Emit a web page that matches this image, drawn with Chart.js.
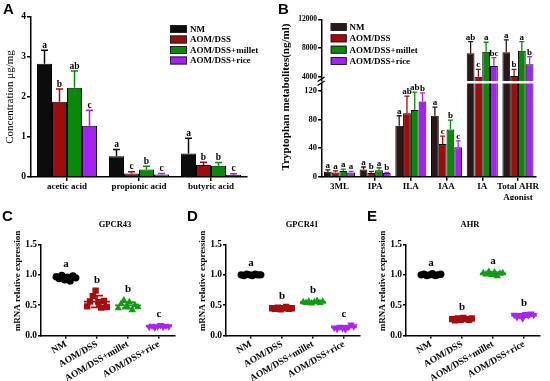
<!DOCTYPE html>
<html><head><meta charset="utf-8">
<script src="https://cdn.jsdelivr.net/npm/chart.js@4.4.0/dist/chart.umd.min.js"></script>
<style>
html,body{margin:0;padding:0;background:#fff;}
#wrap{position:relative;width:550px;height:381px;overflow:hidden;background:#fff;}
canvas{position:absolute;}
</style></head><body>
<div id="wrap">
<canvas id="cA" width="275" height="200" style="left:0;top:0"></canvas>
<canvas id="cB" width="275" height="200" style="left:275px;top:0"></canvas>
<canvas id="cB2" width="275" height="200" style="left:275px;top:0"></canvas>
<canvas id="cC" width="185" height="181" style="left:0;top:200px"></canvas>
<canvas id="cD" width="185" height="181" style="left:185px;top:200px"></canvas>
<canvas id="cE" width="185" height="181" style="left:365px;top:200px"></canvas>
</div>
<script>
// ---------------- DATA ----------------
const groups = ['NM', 'AOM/DSS', 'AOM/DSS+millet', 'AOM/DSS+rice'];

// Panel A: short chain fatty acids
const scfaLabels = ['acetic acid', 'propionic acid', 'butyric acid'];
const scfaTicks = [0, 1, 2, 3, 4];
const scfaNM = [2.83, 0.52, 0.59];
const scfaAOM = [1.88, 0.09, 0.30];
const scfaMillet = [2.23, 0.19, 0.28];
const scfaRice = [1.28, 0.06, 0.05];
const scfaNMErr = [0.34, 0.17, 0.38];
const scfaAOMErr = [0.32, 0.04, 0.07];
const scfaMilletErr = [0.42, 0.08, 0.08];
const scfaRiceErr = [0.39, 0.03, 0.03];
const scfaNMSig = ['a', 'a', 'a'];
const scfaAOMSig = ['b', 'c', 'b'];
const scfaMilletSig = ['ab', 'b', 'b'];
const scfaRiceSig = ['c', 'c', 'c'];

// Panel B: tryptophan metabolites
const trpLabels = ['3ML', 'IPA', 'ILA', 'IAA', 'IA', ['Total AHR', 'Agonist']];
const trpLowerTicks = [0, 40, 80, 120];
const trpUpperTicks = [4000, 8000, 12000];
const trpNM = [7, 10, 71, 85, 7260, 7400];
const trpAOM = [6, 5, 88.5, 45.5, 4000, 4100];
const trpMillet = [8, 9, 93, 66, 7490, 7630];
const trpRice = [6, 5, 105, 41, 5490, 5730];
const trpNMErr = [2.5, 3.5, 14, 12, 1620, 1720];
const trpAOMErr = [2, 2.5, 24, 11, 1030, 930];
const trpMilletErr = [2.5, 3.5, 25, 13, 1310, 1250];
const trpRiceErr = [1.5, 1, 12, 9, 1160, 1060];
const trpNMSig = ['a', 'a', 'a', 'a', 'ab', 'a'];
const trpAOMSig = ['a', 'b', 'ab', 'c', 'c', 'b'];
const trpMilletSig = ['a', 'a', 'ab', 'b', 'a', 'a'];
const trpRiceSig = ['a', 'b', 'b', 'c', 'bc', 'b'];

// Panels C-E: mRNA relative expression (individual animals)
const mrnaTicks = [0, 0.5, 1.0, 1.5];
const gpcr43NM = [0.97, 0.94, 0.99, 0.92, 0.96, 0.90, 0.98, 0.95];
const gpcr43AOM = [0.48, 0.56, 0.65, 0.74, 0.55, 0.46, 0.57, 0.47];
const gpcr43Millet = [0.45, 0.52, 0.58, 0.49, 0.55, 0.42, 0.50, 0.47];
const gpcr43Rice = [0.14, 0.16, 0.13, 0.15, 0.17, 0.14, 0.16, 0.15];
const gpcr43Sig = ['a', 'b', 'b', 'c'];

const gpcr41NM = [1.00, 0.99, 1.01, 1.00, 0.99, 1.01, 1.00, 1.00];
const gpcr41AOM = [0.45, 0.44, 0.46, 0.43, 0.45, 0.47, 0.44, 0.45];
const gpcr41Millet = [0.55, 0.54, 0.56, 0.53, 0.55, 0.57, 0.54, 0.56];
const gpcr41Rice = [0.13, 0.11, 0.14, 0.12, 0.10, 0.14, 0.18, 0.15];
const gpcr41Sig = ['a', 'b', 'b', 'c'];

const ahrNM = [1.00, 1.01, 0.99, 1.00, 1.02, 0.99, 1.00, 1.01];
const ahrAOM = [0.27, 0.25, 0.28, 0.26, 0.29, 0.27, 0.26, 0.28];
const ahrMillet = [1.03, 1.01, 1.05, 1.00, 1.04, 0.98, 1.02, 1.03];
const ahrRice = [0.34, 0.30, 0.33, 0.28, 0.35, 0.33, 0.36, 0.34];
const ahrSig = ['a', 'b', 'a', 'b'];

// ---------------- STYLE ----------------
const SERIF = '"Liberation Serif","Times New Roman",serif';
const SANS = '"Liberation Sans",Arial,sans-serif';
Chart.defaults.font.family = SERIF;
Chart.defaults.color = '#000';
Chart.defaults.animation = false;

const colA = ['#0c0c0c', '#9e0c0c', '#0a880a', '#a322f2'];
const colB = ['#2a1717', '#9e0c0c', '#0a880a', '#a322f2'];
const dotColors = ['#000000', '#a50e0e', '#139c13', '#a826f0'];
const dotStyles = ['circle', 'rect', 'triangle', 'triangle'];
const dotRot = [0, 0, 0, 180];
const dotRadius = [3.7, 4.5, 4.3, 4.3];

// ---------------- PLUGINS ----------------
function panelLetter(txt, x, y) {
  return { id: 'panelLetter', afterDraw(chart) {
    const ctx = chart.ctx; ctx.save();
    ctx.fillStyle = '#000'; ctx.font = 'bold 15px ' + SANS;
    ctx.textAlign = 'left'; ctx.textBaseline = 'alphabetic';
    ctx.fillText(txt, x, y); ctx.restore();
  }};
}
function legendBox(x, ys, w, h, colors, tx, fsize) {
  return { id: 'legendBox', afterDraw(chart) {
    const ctx = chart.ctx; ctx.save();
    ctx.font = 'bold ' + fsize + 'px ' + SERIF; ctx.textAlign = 'left'; ctx.textBaseline = 'middle';
    groups.forEach((g, k) => {
      ctx.fillStyle = colors[k]; ctx.fillRect(x, ys[k], w, h);
      ctx.strokeStyle = '#222'; ctx.lineWidth = 1; ctx.strokeRect(x + 0.5, ys[k] + 0.5, w - 1, h - 1);
      ctx.fillStyle = '#000'; ctx.fillText(g, tx, ys[k] + h / 2 + 0.5);
    });
    ctx.restore();
  }};
}
function barMarks(errs, sigs, colors, cap, lw, fsize, gap) {
  return { id: 'barMarks', afterDatasetsDraw(chart) {
    const ctx = chart.ctx, ys = chart.scales.y;
    ctx.save();
    chart.data.datasets.forEach((ds, di) => {
      const meta = chart.getDatasetMeta(di);
      meta.data.forEach((bar, i) => {
        const v = ds.data[i], e = errs[di][i];
        if (v < ys.min || v > ys.max) return;
        const yTop = ys.getPixelForValue(v + e);
        ctx.strokeStyle = colors[di]; ctx.lineWidth = lw;
        ctx.beginPath();
        ctx.moveTo(bar.x, bar.y); ctx.lineTo(bar.x, yTop);
        ctx.moveTo(bar.x - cap, yTop); ctx.lineTo(bar.x + cap, yTop);
        ctx.stroke();
        ctx.fillStyle = '#000'; ctx.font = 'bold ' + fsize + 'px ' + SERIF;
        ctx.textAlign = 'center'; ctx.textBaseline = 'alphabetic';
        ctx.fillText(sigs[di][i], bar.x, yTop - gap);
      });
    });
    ctx.restore();
  }};
}
function textPlugin(items) {
  return { id: 'texts', afterDraw(chart) {
    const ctx = chart.ctx; ctx.save();
    items.forEach(t => {
      ctx.save(); ctx.translate(t.x, t.y); ctx.rotate((t.rot || 0) * Math.PI / 180);
      ctx.font = t.font; ctx.fillStyle = '#000'; ctx.textAlign = 'center'; ctx.textBaseline = 'middle';
      ctx.fillText(t.text, 0, 0); ctx.restore();
    });
    ctx.restore();
  }};
}
const breakMarks = { id: 'breakMarks', afterDraw(chart) {
  const ctx = chart.ctx, x = chart.chartArea.left;
  ctx.save(); ctx.strokeStyle = '#000'; ctx.lineWidth = 1.3;
  ctx.beginPath();
  ctx.moveTo(x - 4, 81.5); ctx.lineTo(x + 3, 77);
  ctx.moveTo(x - 4, 85.5); ctx.lineTo(x + 3, 81);
  ctx.stroke(); ctx.restore();
}};
function dotMarks(values, sig) {
  return { id: 'dotMarks', afterDatasetsDraw(chart) {
    const ctx = chart.ctx, xs = chart.scales.x, ys = chart.scales.y;
    ctx.save();
    values.forEach((arr, k) => {
      const n = arr.length, m = arr.reduce((a, b) => a + b, 0) / n;
      const sd = Math.sqrt(arr.reduce((a, b) => a + (b - m) * (b - m), 0) / (n - 1));
      const px = xs.getPixelForValue(k), pm = ys.getPixelForValue(m);
      const p1 = ys.getPixelForValue(m + sd), p0 = ys.getPixelForValue(m - sd);
      ctx.strokeStyle = dotColors[k]; ctx.lineWidth = 1.8;
      ctx.beginPath();
      ctx.moveTo(px - 13, pm); ctx.lineTo(px + 13, pm);
      ctx.moveTo(px, p0); ctx.lineTo(px, p1);
      ctx.moveTo(px - 6, p0); ctx.lineTo(px + 6, p0);
      ctx.moveTo(px - 6, p1); ctx.lineTo(px + 6, p1);
      ctx.stroke();
      const top = Math.min(p1, ys.getPixelForValue(Math.max(...arr)));
      ctx.fillStyle = '#000'; ctx.font = 'bold 11px ' + SERIF;
      ctx.textAlign = 'center'; ctx.textBaseline = 'alphabetic';
      ctx.fillText(sig[k], px, top - 8);
    });
    ctx.restore();
  }};
}

const axisGrid = (tl) => ({ drawOnChartArea: false, drawTicks: true, tickLength: tl, color: '#000', lineWidth: 1.5, offset: false });
const axisBorder = { color: '#000', width: 1.5 };
const fixTicks = (arr) => (ax) => { ax.ticks = arr.map(v => ({ value: v })); };

// ---------------- PANEL A ----------------
const scfaVals = [scfaNM, scfaAOM, scfaMillet, scfaRice];
new Chart(document.getElementById('cA'), {
  type: 'bar',
  data: { labels: scfaLabels, datasets: groups.map((g, k) => ({
    label: g, data: scfaVals[k], backgroundColor: colA[k], borderColor: '#000', borderWidth: 1,
    categoryPercentage: 0.833, barPercentage: 1, clip: 0 })) },
  options: {
    responsive: false, devicePixelRatio: 1, animation: false,
    layout: { padding: { left: 0, right: 28, top: 17, bottom: 0 } },
    plugins: { legend: { display: false }, tooltip: { enabled: false } },
    scales: {
      x: { type: 'category', offset: true, grid: axisGrid(4), border: axisBorder,
        ticks: { font: { size: 9, weight: 'bold' }, padding: 0, maxRotation: 0, minRotation: 0, autoSkip: false },
        afterFit: s => { s.height = 23; } },
      y: { min: 0, max: 4, afterBuildTicks: fixTicks(scfaTicks), grid: axisGrid(4), border: axisBorder,
        ticks: { font: { size: 9.5, weight: 'bold' }, padding: 1 },
        title: { display: true, text: 'Concentration μg/mg', font: { size: 11 }, padding: { top: 3.5, bottom: 0 } },
        afterFit: s => { s.width = 31; } }
    }
  },
  plugins: [
    barMarks([scfaNMErr, scfaAOMErr, scfaMilletErr, scfaRiceErr], [scfaNMSig, scfaAOMSig, scfaMilletSig, scfaRiceSig], colA, 3.5, 1.5, 9.5, 2.5),
    legendBox(170, [25, 35.5, 46, 56.5], 17, 8, colA, 190, 9),
    panelLetter('A', 3, 14)
  ]
});

// ---------------- PANEL B ----------------
const trpVals = [trpNM, trpAOM, trpMillet, trpRice];
const trpErrs = [trpNMErr, trpAOMErr, trpMilletErr, trpRiceErr];
const trpSigs = [trpNMSig, trpAOMSig, trpMilletSig, trpRiceSig];
const trpDatasets = () => groups.map((g, k) => ({
  label: g, data: trpVals[k], backgroundColor: colB[k], borderColor: '#000', borderWidth: 1,
  categoryPercentage: 0.87, barPercentage: 1, clip: 0 }));

// lower segment (0-130)
new Chart(document.getElementById('cB'), {
  type: 'bar',
  data: { labels: trpLabels, datasets: trpDatasets() },
  options: {
    responsive: false, devicePixelRatio: 1, animation: false,
    layout: { padding: { left: 0, right: 14.2, top: 83.5, bottom: 0 } },
    plugins: { legend: { display: false }, tooltip: { enabled: false } },
    scales: {
      x: { type: 'category', offset: true, grid: axisGrid(4), border: axisBorder,
        ticks: { font: { size: 9, weight: 'bold', lineHeight: 1.25 }, padding: 0, maxRotation: 0, minRotation: 0, autoSkip: false },
        afterFit: s => { s.height = 23.3; } },
      y: { min: 0, max: 130, afterBuildTicks: fixTicks(trpLowerTicks), grid: axisGrid(3.5), border: axisBorder,
        ticks: { font: { size: 8.5, weight: 'bold' }, padding: 1, callback: v => String(v) },
        afterFit: s => { s.width = 46.6; } }
    }
  },
  plugins: [
    barMarks(trpErrs, trpSigs, colB, 2.5, 1.3, 9, 2),
    legendBox(55.7, [23, 34.3, 45.7, 57], 16, 8, colB, 74.5, 9),
    textPlugin([{ text: 'Tryptophan metabolites(ng/ml)', x: 11, y: 97, rot: -90, font: 'bold 11px ' + SERIF }]),
    breakMarks,
    panelLetter('B', 3, 14)
  ]
});

// upper segment (3400-12000)
new Chart(document.getElementById('cB2'), {
  type: 'bar',
  data: { labels: trpLabels, datasets: trpDatasets() },
  options: {
    responsive: false, devicePixelRatio: 1, animation: false,
    layout: { padding: { left: 0, right: 14.2, top: 19.3, bottom: 119 } },
    plugins: { legend: { display: false }, tooltip: { enabled: false } },
    scales: {
      x: { type: 'category', offset: true, display: false },
      y: { min: 3400, max: 12000, afterBuildTicks: fixTicks(trpUpperTicks), grid: axisGrid(3.5), border: axisBorder,
        ticks: { font: { size: 7.5, weight: 'bold' }, padding: 1, callback: v => String(v) },
        afterFit: s => { s.width = 46.6; } }
    }
  },
  plugins: [ barMarks(trpErrs, trpSigs, colB, 2.5, 1.3, 9, 2) ]
});

// ---------------- PANELS C-E ----------------
function dotChart(id, values, sig, title, titleX, letter) {
  const datasets = values.map((arr, k) => ({
    label: groups[k],
    data: arr.map((v, i) => ({ x: k + (i - (arr.length - 1) / 2) * 0.09, y: v })),
    pointStyle: dotStyles[k], rotation: dotRot[k], pointRadius: dotRadius[k],
    backgroundColor: dotColors[k], borderColor: dotColors[k], borderWidth: 0, showLine: false
  }));
  new Chart(document.getElementById(id), {
    type: 'scatter',
    data: { datasets },
    options: {
      responsive: false, devicePixelRatio: 1, animation: false,
      layout: { padding: { left: 0, right: 10, top: 44.5, bottom: 0 } },
      plugins: { legend: { display: false }, tooltip: { enabled: false } },
      scales: {
        x: { type: 'linear', min: -0.806, max: 3.516, afterBuildTicks: fixTicks([0, 1, 2, 3]),
          grid: axisGrid(3), border: axisBorder,
          ticks: { font: { size: 9.5, weight: 'bold' }, padding: 0, minRotation: 30, maxRotation: 30, autoSkip: false,
            callback: v => groups[v] },
          afterFit: s => { s.height = 45.5; } },
        y: { min: 0, max: 1.5, afterBuildTicks: fixTicks(mrnaTicks), grid: axisGrid(3), border: axisBorder,
          ticks: { font: { size: 9.5, weight: 'bold' }, padding: 1, callback: v => v.toFixed(1) },
          afterFit: s => { s.width = 41; } }
      }
    },
    plugins: [
      dotMarks(values, sig),
      textPlugin([
        { text: title, x: titleX, y: 25, font: 'bold 8.5px ' + SERIF },
        { text: 'mRNA relative expression', x: 18, y: 81, rot: -90, font: 'bold 9px ' + SERIF }
      ]),
      panelLetter(letter, 2, 21)
    ]
  });
}
dotChart('cC', [gpcr43NM, gpcr43AOM, gpcr43Millet, gpcr43Rice], gpcr43Sig, 'GPCR43', 115, 'C');
dotChart('cD', [gpcr41NM, gpcr41AOM, gpcr41Millet, gpcr41Rice], gpcr41Sig, 'GPCR41', 117, 'D');
dotChart('cE', [ahrNM, ahrAOM, ahrMillet, ahrRice], ahrSig, 'AHR', 105, 'E');
</script>
</body></html>
